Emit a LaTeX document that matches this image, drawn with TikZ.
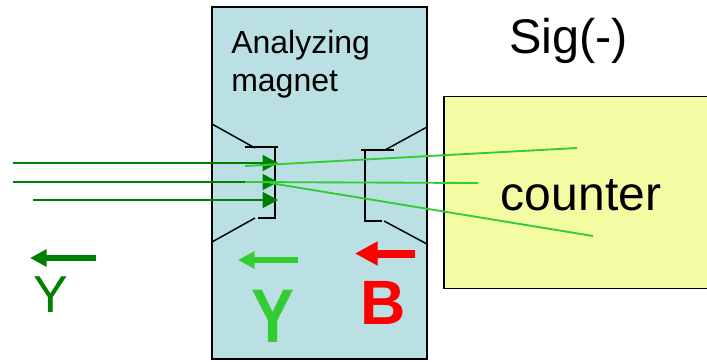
\documentclass[tikz,border=0pt]{standalone}
\usepackage{fontspec}
\setmainfont{Liberation Sans}
\usetikzlibrary{arrows.meta}

\definecolor{magnetblue}{HTML}{BAE0E3}
\definecolor{counteryellow}{HTML}{F3FBA3}
\definecolor{darkgreen}{HTML}{008000}
\definecolor{lightgreen}{HTML}{33CC33}

\tikzset{
  beam/.style={darkgreen, line width=1.1pt, -{Triangle[length=11.5pt, width=12pt]}},
  trace/.style={lightgreen, line width=1.4pt},
  pole/.style={black, line width=1.1pt},
  fat/.style={line width=4.6pt, -{Triangle[length=12.5pt, width=12.5pt, sep=0pt]}},
  fatred/.style={red, line width=6pt, -{Triangle[length=17pt, width=17pt, sep=0pt]}},
  label/.style={inner sep=0pt, anchor=base}
}

\begin{document}
\begin{tikzpicture}[x=0.75pt, y=-0.75pt]
      \useasboundingbox (0,0) rectangle (707,361);

      \node[shape = rectangle, draw = black, fill = magnetblue, line width=1.2pt, minimum width=161pt, minimum height=264pt, inner sep=0pt] at (319.5,183) (magnet_box) {};
      \node[shape = rectangle, draw = black, fill = counteryellow, line width=1.2pt, minimum width=210pt, minimum height=144pt, inner sep=0pt] at (584,192.5) (counter_box) {};

      \node[label, anchor=base west, font=\fontsize{24pt}{28pt}\selectfont] at (231,53) (analyzing_text) {Analyzing};
      \node[label, anchor=base west, font=\fontsize{24pt}{28pt}\selectfont] at (231,91) (magnet_text) {magnet};
      \node[label, font=\fontsize{36.5pt}{42pt}\selectfont] at (568.5,53) (sig_text) {Sig(-)};
      \node[label, font=\fontsize{36pt}{42pt}\selectfont] at (581,210) (counter_text) {counter};

      % left pole
      \coordinate (a_1) at (212,124);
      \coordinate (a_2) at (255,148);
      \coordinate (a_3) at (245,147);
      \coordinate (a_4) at (278,147);
      \coordinate (a_5) at (275,147);
      \coordinate (a_6) at (275,218);
      \coordinate (a_7) at (258,218);
      \coordinate (a_8) at (255,218);
      \coordinate (a_9) at (212,242);
      \draw[pole] (a_1) -- (a_2);
      \draw[pole] (a_3) -- (a_4);
      \draw[pole] (a_5) -- (a_6) -- (a_7);
      \draw[pole] (a_8) -- (a_9);

      % right pole
      \coordinate (b_1) at (427,127);
      \coordinate (b_2) at (385,150);
      \coordinate (b_3) at (361,150);
      \coordinate (b_4) at (394,150);
      \coordinate (b_5) at (365,150);
      \coordinate (b_6) at (365,221);
      \coordinate (b_7) at (382,221);
      \coordinate (b_8) at (384,221);
      \coordinate (b_9) at (427,244);
      \draw[pole] (b_1) -- (b_2);
      \draw[pole] (b_3) -- (b_4);
      \draw[pole] (b_5) -- (b_6) -- (b_7);
      \draw[pole] (b_8) -- (b_9);

      % --------------------------------------------------------------------------
      \coordinate (in_1) at (13,163);
      \coordinate (in_2) at (13,182);
      \coordinate (in_3) at (33,200);
      \coordinate (tip_1) at (278,163);
      \coordinate (tip_2) at (278,182);
      \coordinate (tip_3) at (278,200);
      \draw[beam] (in_1) -- (tip_1);
      \draw[beam] (in_2) -- (tip_2);
      \draw[beam] (in_3) -- (tip_3);

      \coordinate (out_1) at (245,166);
      \coordinate (end_1) at (577,148);
      \coordinate (out_2) at (245,182);
      \coordinate (end_2) at (478,183);
      \coordinate (out_3) at (270,183);
      \coordinate (end_3) at (593,236);
      \draw[trace] (out_1) -- (end_1);
      \draw[trace] (out_2) -- (end_2);
      \draw[trace] (out_3) -- (end_3);

      % --------------------------------------------------------------------------
      \coordinate (y_start) at (96,258);
      \coordinate (y_end) at (30,258);
      \coordinate (g_start) at (298,260);
      \coordinate (g_end) at (238,260);
      \coordinate (r_start) at (415,253.5);
      \coordinate (r_end) at (355,253.5);
      \draw[fat, darkgreen] (y_start) -- (y_end);
      \draw[fat, lightgreen] (g_start) -- (g_end);
      \draw[fatred] (r_start) -- (r_end);

      \node[label, text=darkgreen, font=\fontsize{39pt}{46pt}\selectfont] at (51,312) (y_text) {Y};
      \node[label, text=lightgreen, font=\fontsize{57pt}{66pt}\selectfont\bfseries, xscale=0.85] at (273,342) (gamma_text) {Y};
      \node[label, text=red, font=\fontsize{47pt}{55pt}\selectfont\bfseries] at (383,324) (b_text) {B};
    \end{tikzpicture}
\end{document}
